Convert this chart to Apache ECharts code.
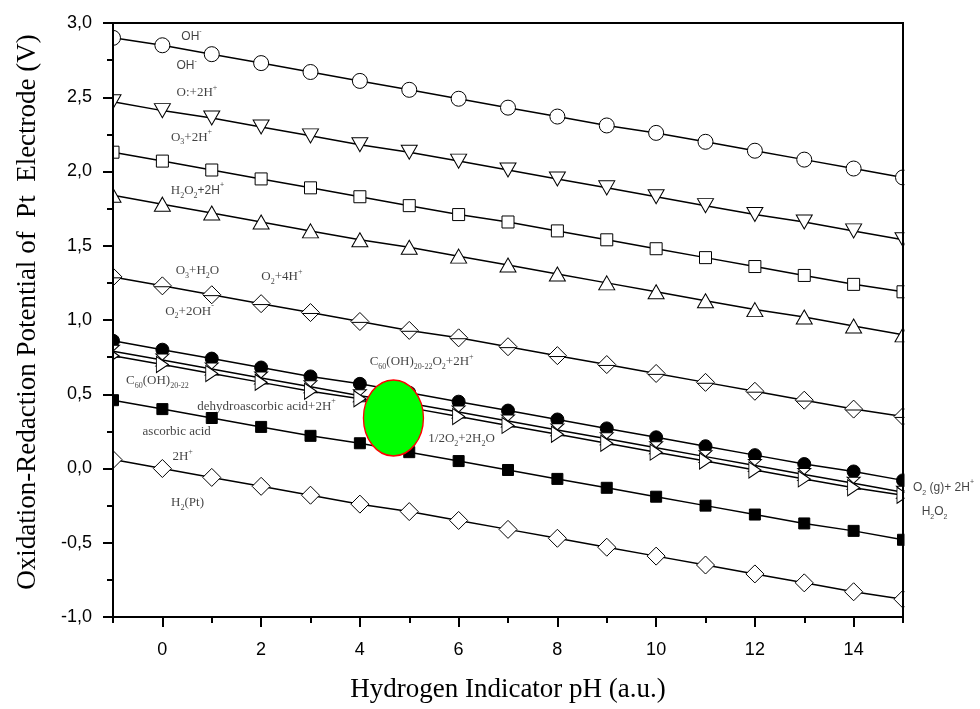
<!DOCTYPE html>
<html>
<head>
<meta charset="utf-8">
<script src="https://cdn.jsdelivr.net/npm/echarts@6/dist/echarts.min.js"></script>
<style>
  html, body { margin: 0; padding: 0; background: #fff; }
  #chart { width: 980px; height: 709px; }
</style>
</head>
<body>
<div id="chart"></div>
<script>
// pH scale (x) and electrode potentials in V (y)
const pH = [-1, 0, 1, 2, 3, 4, 5, 6, 7, 8, 9, 10, 11, 12, 13, 14, 15];
const xLabelTicks = [0, 2, 4, 6, 8, 10, 12, 14];
const xMinorTicks = [-1, 1, 3, 5, 7, 9, 11, 13, 15];
const yMin = -1, yMax = 3, yStep = 0.5;

const ohRadical   = [2.90, 2.85, 2.79, 2.73, 2.67, 2.61, 2.55, 2.49, 2.43, 2.37, 2.31, 2.26, 2.20, 2.14, 2.08, 2.02, 1.96];
const oAtom       = [2.47, 2.41, 2.36, 2.30, 2.24, 2.18, 2.13, 2.07, 2.01, 1.95, 1.89, 1.83, 1.77, 1.71, 1.66, 1.60, 1.54];
const ozone       = [2.13, 2.07, 2.01, 1.95, 1.89, 1.83, 1.77, 1.71, 1.66, 1.60, 1.54, 1.48, 1.42, 1.36, 1.30, 1.24, 1.19];
const peroxide    = [1.84, 1.78, 1.72, 1.66, 1.60, 1.54, 1.49, 1.43, 1.37, 1.31, 1.25, 1.19, 1.13, 1.07, 1.02, 0.96, 0.90];
const oxygenWater = [1.29, 1.23, 1.17, 1.11, 1.05, 0.99, 0.93, 0.88, 0.82, 0.76, 0.70, 0.64, 0.58, 0.52, 0.46, 0.40, 0.35];
const fullerenol  = [0.86, 0.80, 0.74, 0.68, 0.62, 0.57, 0.51, 0.45, 0.39, 0.33, 0.27, 0.21, 0.15, 0.09, 0.03, -0.02, -0.08];
const o2Peroxide  = [0.79, 0.73, 0.67, 0.61, 0.55, 0.49, 0.44, 0.38, 0.32, 0.26, 0.20, 0.14, 0.08, 0.02, -0.04, -0.10, -0.16];
const fullerenolB = [0.76, 0.70, 0.64, 0.58, 0.52, 0.47, 0.41, 0.35, 0.29, 0.23, 0.17, 0.11, 0.05, -0.01, -0.07, -0.13, -0.18];
const ascorbic    = [0.46, 0.40, 0.34, 0.28, 0.22, 0.17, 0.11, 0.05, -0.01, -0.07, -0.13, -0.19, -0.25, -0.31, -0.37, -0.42, -0.48];
const hydrogen    = [0.06, 0.00, -0.06, -0.12, -0.18, -0.24, -0.29, -0.35, -0.41, -0.47, -0.53, -0.59, -0.65, -0.71, -0.77, -0.83, -0.88];

// highlighted working region
const regionCenter = [4.68, 0.34];

// reaction annotations: [pH, potential, text, family]
const annotations = [
  [0.59, 2.91, 'OH{supA|-}', 'sans'],
  [0.49, 2.71, 'OH{supA|-}', 'sans'],
  [0.70, 2.53, 'O:+2H{sup|+}', 'serif'],
  [0.59, 2.23, 'O{sub|3}+2H{sup|+}', 'serif'],
  [0.71, 1.87, 'H{sub|2}O{sub|2}{a|+2H}{supA|+}', 'serif'],
  [0.71, 1.33, 'O{sub|3}+H{sub|2}O', 'serif'],
  [2.42, 1.29, 'O{sub|2}+4H{sup|+}', 'serif'],
  [0.55, 1.06, 'O{sub|2}+2OH{sup|-}', 'serif'],
  [-0.10, 0.59, 'C{sub|60}(OH){sub|20-22}', 'serif'],
  [2.11, 0.42, 'dehydroascorbic acid+2H{sup|+}', 'serif'],
  [0.29, 0.25, 'ascorbic acid', 'serif'],
  [0.41, 0.08, '2H{sup|+}', 'serif'],
  [0.51, -0.23, 'H{sub|2}(Pt)', 'serif'],
  [5.25, 0.72, 'C{sub|60}(OH){sub|20-22}O{sub|2}+2H{sup|+}', 'serif'],
  [6.06, 0.20, '1/2O{sub|2}+2H{sub|2}O', 'serif'],
  [15.82, -0.13, 'O{subA|2} (g)+ 2H{supA|+}', 'sans'],
  [15.64, -0.29, 'H{subA|2}O{subA|2}', 'sans']
];

const SERIF = '"Liberation Serif", "Times New Roman", serif';
const SANS = '"Liberation Sans", Arial, sans-serif';

const seriesDefs = [
  { data: ohRadical,   symbol: 'circle', size: 15, fill: '#fff' },
  { data: oAtom,       symbol: 'path://M0,0L16,0L8,14Z', size: [16, 14], fill: '#fff' },
  { data: ozone,       symbol: 'rect', size: 12, fill: '#fff' },
  { data: peroxide,    symbol: 'path://M8,0L16,14L0,14Z', size: [16, 14], fill: '#fff' },
  { data: oxygenWater, symbol: 'path://M10,0L20,10L10,20L0,10Z M1,11L19,11', size: [18, 18], fill: '#fff' },
  { data: fullerenol,  symbol: 'circle', size: 13, fill: '#000' },
  { data: o2Peroxide,  symbol: 'path://M0,0L14,0L0,13L14,13Z', size: [13, 12], fill: '#fff' },
  { data: fullerenolB, symbol: 'path://M0,0L13,8L0,16Z', size: [12, 16], fill: '#fff' },
  { data: ascorbic,    symbol: 'rect', size: 11, fill: '#000' },
  { data: hydrogen,    symbol: 'path://M9,0L18,9L9,18L0,9Z', size: [18, 18], fill: '#fff' }
];

const lineSeries = seriesDefs.map(d => ({
  type: 'line',
  data: pH.map((x, i) => [x, d.data[i]]),
  symbol: d.symbol,
  symbolSize: d.size,
  showAllSymbol: true,
  clip: true,
  z: 2,
  lineStyle: { color: '#000', width: 1.5 },
  itemStyle: { color: d.fill, borderColor: '#000', borderWidth: 1 },
  emphasis: { disabled: true },
  animation: false
}));

const regionSeries = {
  type: 'scatter',
  data: [regionCenter],
  symbol: 'circle',
  symbolSize: [60, 76],
  z: 3,
  itemStyle: { color: '#00ff00', borderColor: '#ff0000', borderWidth: 1.5, opacity: 1 },
  emphasis: { disabled: true },
  animation: false
};

const richStyles = {
  sub:  { fontFamily: SERIF, fontSize: 8, lineHeight: 9, verticalAlign: 'bottom', color: '#111' },
  sup:  { fontFamily: SERIF, fontSize: 8, lineHeight: 9, verticalAlign: 'top', color: '#111' },
  subA: { fontFamily: SANS, fontSize: 7, lineHeight: 8, verticalAlign: 'bottom', color: '#111' },
  supA: { fontFamily: SANS, fontSize: 7, lineHeight: 8, verticalAlign: 'top', color: '#111' },
  a:    { fontFamily: SANS, fontSize: 12, lineHeight: 18, color: '#111' }
};

const annotationSeries = {
  type: 'scatter',
  clip: false,
  silent: true,
  z: 20,
  symbol: 'circle',
  symbolSize: 1,
  itemStyle: { color: 'rgba(0,0,0,0)' },
  animation: false,
  data: annotations.map(a => ({
    value: [a[0], a[1]],
    text: a[2],
    label: {
      fontFamily: a[3] === 'sans' ? SANS : SERIF,
      fontSize: a[3] === 'sans' ? 12 : 13
    }
  })),
  label: {
    show: true,
    position: 'inside',
    color: '#111',
    lineHeight: 18,
    formatter: p => p.data.text,
    rich: richStyles
  }
};

const chart = echarts.init(document.getElementById('chart'), null, { renderer: 'canvas' });

chart.setOption({
  animation: false,
  backgroundColor: '#fff',
  grid: {
    left: 113, right: 77, top: 23, bottom: 92,
    show: true, borderColor: '#000', borderWidth: 2,
    backgroundColor: 'rgba(0,0,0,0)', z: 10
  },
  xAxis: [
    {
      type: 'value', min: -1, max: 15, z: 10,
      name: 'Hydrogen Indicator pH (a.u.)',
      nameLocation: 'middle', nameGap: 59,
      nameTextStyle: { fontFamily: SERIF, fontSize: 27, color: '#000' },
      axisLine: { show: true, onZero: false, lineStyle: { color: '#000', width: 2 } },
      axisTick: { show: true, inside: false, length: 10, customValues: xLabelTicks, lineStyle: { color: '#000', width: 2 } },
      axisLabel: { show: true, customValues: xLabelTicks, margin: 24, fontFamily: SANS, fontSize: 18, color: '#000' },
      splitLine: { show: false }
    },
    {
      type: 'value', min: -1, max: 15, z: 10, position: 'bottom',
      axisLine: { show: false, onZero: false },
      axisTick: { show: true, inside: false, length: 6, customValues: xMinorTicks, lineStyle: { color: '#000', width: 2 } },
      axisLabel: { show: false },
      splitLine: { show: false }
    }
  ],
  yAxis: {
    type: 'value', min: yMin, max: yMax, interval: yStep, z: 10,
    name: 'Oxidation-Redaction Potential of  Pt  Electrode (V)',
    nameLocation: 'middle', nameGap: 72,
    nameTextStyle: { fontFamily: SERIF, fontSize: 27, color: '#000', padding: [0, 0, 0, 16] },
    axisLine: { show: true, onZero: false, lineStyle: { color: '#000', width: 2 } },
    axisTick: { show: true, inside: false, length: 10, lineStyle: { color: '#000', width: 2 } },
    minorTick: { show: true, splitNumber: 2, length: 6, lineStyle: { color: '#000', width: 2 } },
    axisLabel: {
      margin: 21, fontFamily: SANS, fontSize: 18, color: '#000',
      formatter: v => v.toFixed(1).replace('.', ',')
    },
    splitLine: { show: false },
    minorSplitLine: { show: false }
  },
  graphic: {
    elements: [
      { type: 'rect', z: 5, silent: true, shape: { x: 0, y: 0, width: 112, height: 709 }, style: { fill: '#fff' } },
      { type: 'rect', z: 5, silent: true, shape: { x: 904.5, y: 0, width: 80, height: 709 }, style: { fill: '#fff' } }
    ]
  },
  series: lineSeries.concat([regionSeries, annotationSeries])
});
</script>
</body>
</html>
